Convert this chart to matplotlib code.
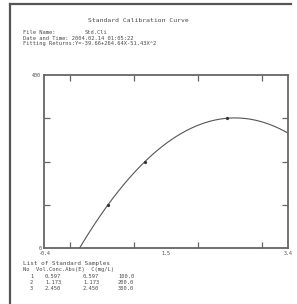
import matplotlib
matplotlib.use('Agg')
import matplotlib.pyplot as plt
import numpy as np
from matplotlib.lines import Line2D

# standard samples (absorbance vs concentration)
sample_no = [1, 2, 3]
sample_abs = [0.597, 1.173, 2.450]
sample_conc = [100.0, 200.0, 300.0]

# fitted quadratic returned by the instrument: Y = c0 + c1*X + c2*X^2
fit_coef = [-39.66, 264.64, -51.43]

x_ticks = [0, 1, 2, 3]
x_labels_pos = [-0.4, 1.5, 3.4]
x_labels = ['-0.4', '1.5', '3.4']
y_ticks = [100, 200, 300]
y_labels_pos = [0, 200, 400]
y_labels = ['0', '200.', '400']

ink = '#4a4a4a'
mono = 'DejaVu Sans Mono'

fig = plt.figure(figsize=(2.97, 3.04), dpi=100)
fig.patch.set_facecolor('white')

# page frame (top and left edge of the scanned sheet)
fig.add_artist(Line2D([10/297, 10/297], [0, 1 - 4/304], color='#555555', lw=1.6))
fig.add_artist(Line2D([10/297, 291/297], [1 - 4/304, 1 - 4/304], color='#555555', lw=1.6))

# header text
fig.text(138/297, 1 - 20/304, 'Standard Calibration Curve', ha='center', va='center',
         fontsize=4.6, family=mono, color=ink)
fig.text(23/297, 1 - 33/304, 'File Name:', ha='left', va='center', fontsize=3.9, family=mono, color=ink)
fig.text(85/297, 1 - 33/304, 'Std.Cli', ha='left', va='center', fontsize=3.9, family=mono, color=ink)
fig.text(23/297, 1 - 38/304, 'Date and Time: 2004.02.14 01:05:22', ha='left', va='center',
         fontsize=3.9, family=mono, color=ink)
eq = 'Fitting Returns:Y=%.2f+%.2fX%.2fX^2' % (fit_coef[0], fit_coef[1], fit_coef[2])
fig.text(23/297, 1 - 43/304, eq, ha='left', va='center', fontsize=3.9, family=mono, color=ink)

ax = fig.add_axes([44/297, 1 - 248/304, 244/297, 173/304])
ax.set_xlim(-0.4, 3.4)
ax.set_ylim(0, 400)

xs = np.linspace(-0.4, 3.4, 300)
ys = fit_coef[0] + fit_coef[1]*xs + fit_coef[2]*xs**2
ax.plot(xs, ys, color='#555555', lw=0.8)
ax.plot(sample_abs, sample_conc, 'o', color='#333333', ms=1.3)

for s in ax.spines.values():
    s.set_color('#666666')
    s.set_linewidth(1.3)

ax.set_xticks(x_ticks)
ax.set_xticks(x_labels_pos, minor=True)
ax.set_xticklabels(['']*len(x_ticks))
ax.set_xticklabels(x_labels, minor=True)
ax.set_yticks(y_ticks)
ax.set_yticks(y_labels_pos, minor=True)
ax.set_yticklabels(['']*len(y_ticks))
ax.set_yticklabels(y_labels, minor=True)
ax.tick_params(which='major', direction='in', length=4, width=0.9, color='#666666',
               top=True, right=True)
ax.tick_params(which='minor', length=0, labelsize=3.6, colors=ink, pad=2)
for t in ax.get_xticklabels(minor=True) + ax.get_yticklabels(minor=True):
    t.set_family(mono)

# table of standard samples
fig.text(23/297, 1 - 263/304, 'List of Standard Samples', ha='left', va='center',
         fontsize=4.3, family=mono, color=ink)
fig.text(23/297, 1 - 269/304, 'No  Vol.Conc.Abs(E)  C(mg/L)', ha='left', va='center',
         fontsize=3.9, family=mono, color=ink)
for i, (n, a, c) in enumerate(zip(sample_no, sample_abs, sample_conc)):
    y = 1 - (276 + 6*i)/304
    fig.text(30/297, y, str(n), ha='left', va='center', fontsize=3.9, family=mono, color=ink)
    fig.text(45/297, y, '%.3f' % a, ha='left', va='center', fontsize=3.9, family=mono, color=ink)
    fig.text(83/297, y, '%.3f' % a, ha='left', va='center', fontsize=3.9, family=mono, color=ink)
    fig.text(118/297, y, '%.1f' % c, ha='left', va='center', fontsize=3.9, family=mono, color=ink)

fig.savefig('out.png', dpi=100)
